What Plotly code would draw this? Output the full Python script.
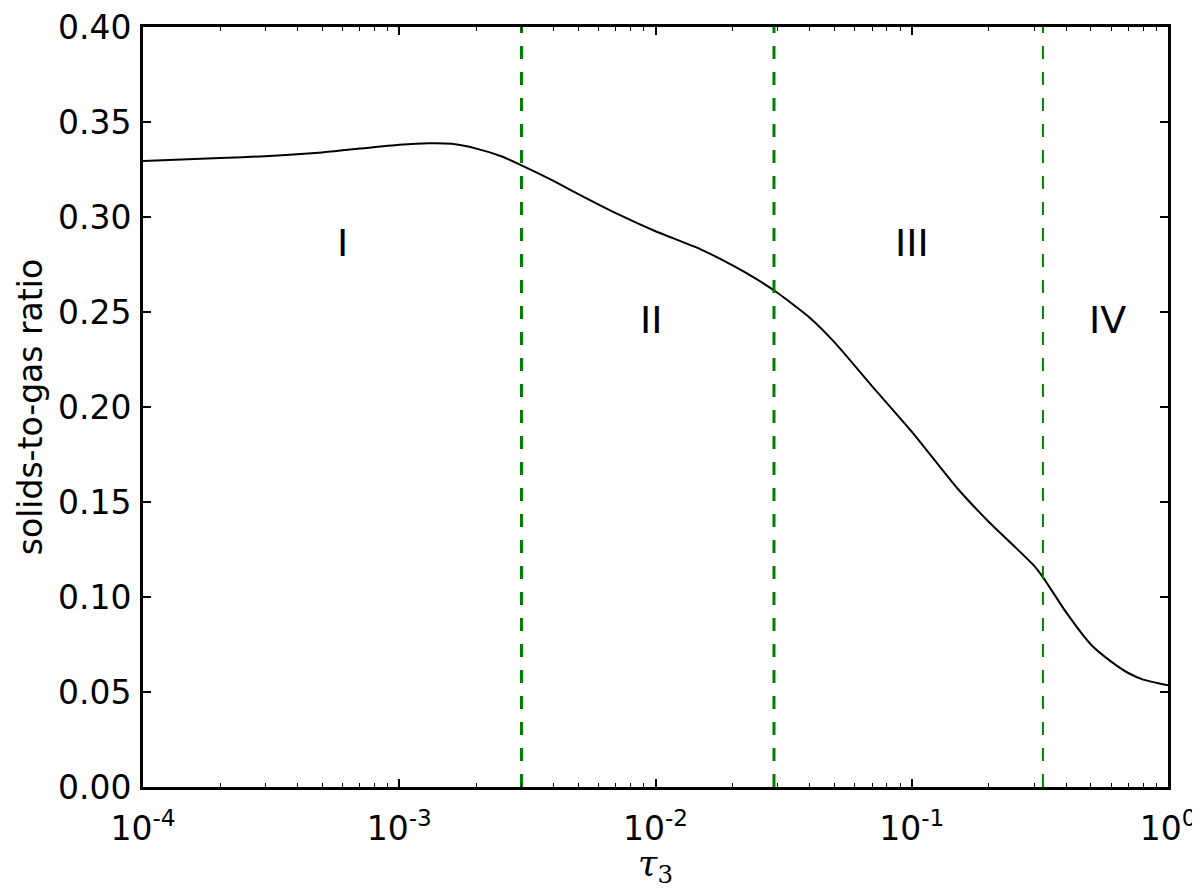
import numpy as np
import plotly.graph_objects as go

# --- data ---
tau = [1e-4, 2e-4, 3e-4, 5e-4, 7e-4, 1e-3, 1.3e-3, 1.6e-3, 2e-3, 2.5e-3, 3e-3,
       4e-3, 5e-3, 7e-3, 1e-2, 1.5e-2, 2e-2, 2.5e-2, 3e-2, 4e-2, 5e-2, 7e-2,
       0.1, 0.15, 0.2, 0.25, 0.3, 0.325, 0.4, 0.5, 0.6, 0.7, 0.8, 1.0]
ratio = [0.3295, 0.3310, 0.3320, 0.3340, 0.3360, 0.3380, 0.3388, 0.3385, 0.3360,
         0.3320, 0.3272, 0.3190, 0.3120, 0.3020, 0.2925, 0.2830, 0.2745, 0.2670,
         0.2600, 0.2470, 0.2340, 0.2110, 0.1870, 0.1575, 0.1395, 0.1270, 0.1165,
         0.1105, 0.0920, 0.0750, 0.0660, 0.0600, 0.0565, 0.0535]

boundaries = [0.003, 0.029, 0.325]
boundary_widths = [3, 3, 2]

region_labels = ["I", "II", "III", "IV"]
region_x = [6e-4, 9.6e-3, 0.1, 0.58]
region_y = [0.2865, 0.2460, 0.2865, 0.2460]

x_tickvals = [1e-4, 1e-3, 1e-2, 1e-1, 1e0]
x_ticktext = ["10<sup>-4</sup>", "10<sup>-3</sup>", "10<sup>-2</sup>", "10<sup>-1</sup>", "10<sup>0</sup>"]
y_tickvals = [0.0, 0.05, 0.10, 0.15, 0.20, 0.25, 0.30, 0.35, 0.40]
y_ticktext = ["0.00", "0.05", "0.10", "0.15", "0.20", "0.25", "0.30", "0.35", "0.40"]

minor_vals = [m * 10.0 ** e for e in range(-4, 0) for m in range(2, 10)]

FONT = "DejaVu Sans"
GREEN = "#007f00"

fig = go.Figure()
fig.add_trace(go.Scatter(x=tau, y=ratio, mode="lines",
                         line=dict(color="black", width=2, shape="spline", smoothing=0.5),
                         showlegend=False, hoverinfo="skip"))

for b, w in zip(boundaries, boundary_widths):
    fig.add_trace(go.Scatter(x=[b, b], y=[0, 0.40], mode="lines",
                             line=dict(color=GREEN, width=w, dash="13px,13px"),
                             showlegend=False, hoverinfo="skip"))

for lab, lx, ly in zip(region_labels, region_x, region_y):
    fig.add_annotation(x=np.log10(lx), y=ly, xref="x", yref="y", text=lab,
                       xanchor="center", yanchor="middle",
                       showarrow=False, font=dict(family=FONT, size=38, color="black"))

fig.add_annotation(x=-0.110, y=0.5, xref="paper", yref="paper", text="solids-to-gas ratio",
                   textangle=-90, xanchor="center", yanchor="middle", showarrow=False,
                   font=dict(family=FONT, size=33, color="black"))
fig.add_annotation(x=0.500, y=-0.105, xref="paper", yref="paper",
                   text="<i>τ</i><sub>3</sub>", showarrow=False,
                   xanchor="center", yanchor="middle",
                   font=dict(family="DejaVu Serif", size=35, color="black"))

axis_common = dict(showline=True, linecolor="black", linewidth=3, mirror="allticks",
                   ticks="inside", tickcolor="black", showgrid=False, zeroline=False,
                   automargin=False, ticklabeloverflow="allow",
                   tickfont=dict(family=FONT, size=33, color="black"))

fig.update_xaxes(type="log", range=[-4, 0], tickmode="array", tickvals=x_tickvals,
                 ticktext=x_ticktext, ticklen=8, tickwidth=1.5, ticklabelstandoff=10,
                 minor=dict(tickmode="array", tickvals=minor_vals, ticks="inside",
                            ticklen=4, tickwidth=1.2, tickcolor="black", showgrid=False),
                 **axis_common)
fig.update_yaxes(range=[0, 0.40], tickmode="array", tickvals=y_tickvals,
                 ticktext=y_ticktext, ticklen=8, tickwidth=1.5, ticklabelstandoff=2,
                 **axis_common)

# page body has an 8px margin, so the figure is offset by 8px in the window
fig.update_layout(width=1192, height=883, paper_bgcolor="white", plot_bgcolor="white",
                  margin=dict(l=135, r=32, t=19, b=104), showlegend=False)

fig.write_html("out.html")
